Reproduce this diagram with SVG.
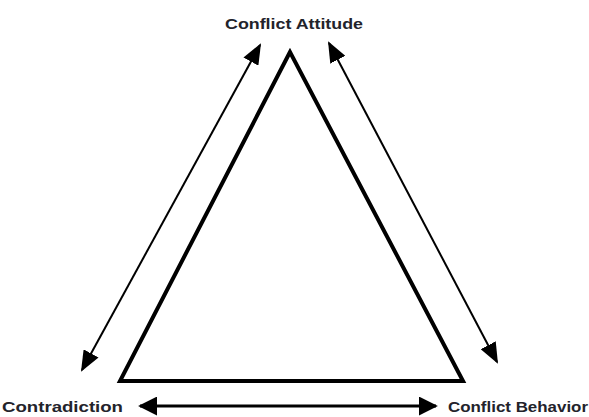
<svg xmlns="http://www.w3.org/2000/svg" width="589" height="417" viewBox="0 0 589 417">
<style>
.lbl{font-family:"Liberation Sans",Arial,sans-serif;font-weight:bold;font-size:15px;fill:#23232b}
.tri{fill:none;stroke:#000;stroke-width:4;stroke-linejoin:miter}
.arr{stroke:#000;stroke-width:2;fill:none;marker-start:url(#ah);marker-end:url(#ah)}
.arrb{stroke:#000;stroke-width:3;fill:none;marker-start:url(#ahb);marker-end:url(#ahb)}
</style>
<defs>
<marker id="ah" viewBox="0 0 10 10" refX="9" refY="5" markerWidth="21" markerHeight="17" markerUnits="userSpaceOnUse" orient="auto-start-reverse" preserveAspectRatio="none">
<path d="M0,0 L10,5 L0,10 z" fill="#000"/>
</marker>
<marker id="ahb" viewBox="0 0 10 10" refX="9" refY="5" markerWidth="19" markerHeight="19" markerUnits="userSpaceOnUse" orient="auto-start-reverse" preserveAspectRatio="none">
<path d="M0,0 L10,5 L0,10 z" fill="#000"/>
</marker>
</defs>
<rect width="589" height="417" fill="#fff"/>
<g id="triangle"><path class="tri" d="M290,52 L120,381 L463,381 Z"/></g>
<g id="node-attitude"><text class="lbl" x="294" y="29" text-anchor="middle" textLength="138" lengthAdjust="spacingAndGlyphs">Conflict Attitude</text></g>
<g id="node-contradiction"><text class="lbl" x="2" y="412" textLength="121" lengthAdjust="spacingAndGlyphs">Contradiction</text></g>
<g id="node-behavior"><text class="lbl" x="448" y="412" textLength="140" lengthAdjust="spacingAndGlyphs">Conflict Behavior</text></g>
<g id="connectors">
<line class="arr" x1="82" y1="370" x2="260" y2="45"/>
<line class="arr" x1="329" y1="43" x2="497" y2="362"/>
<line class="arrb" x1="140" y1="406" x2="436" y2="406"/>
</g>
</svg>
